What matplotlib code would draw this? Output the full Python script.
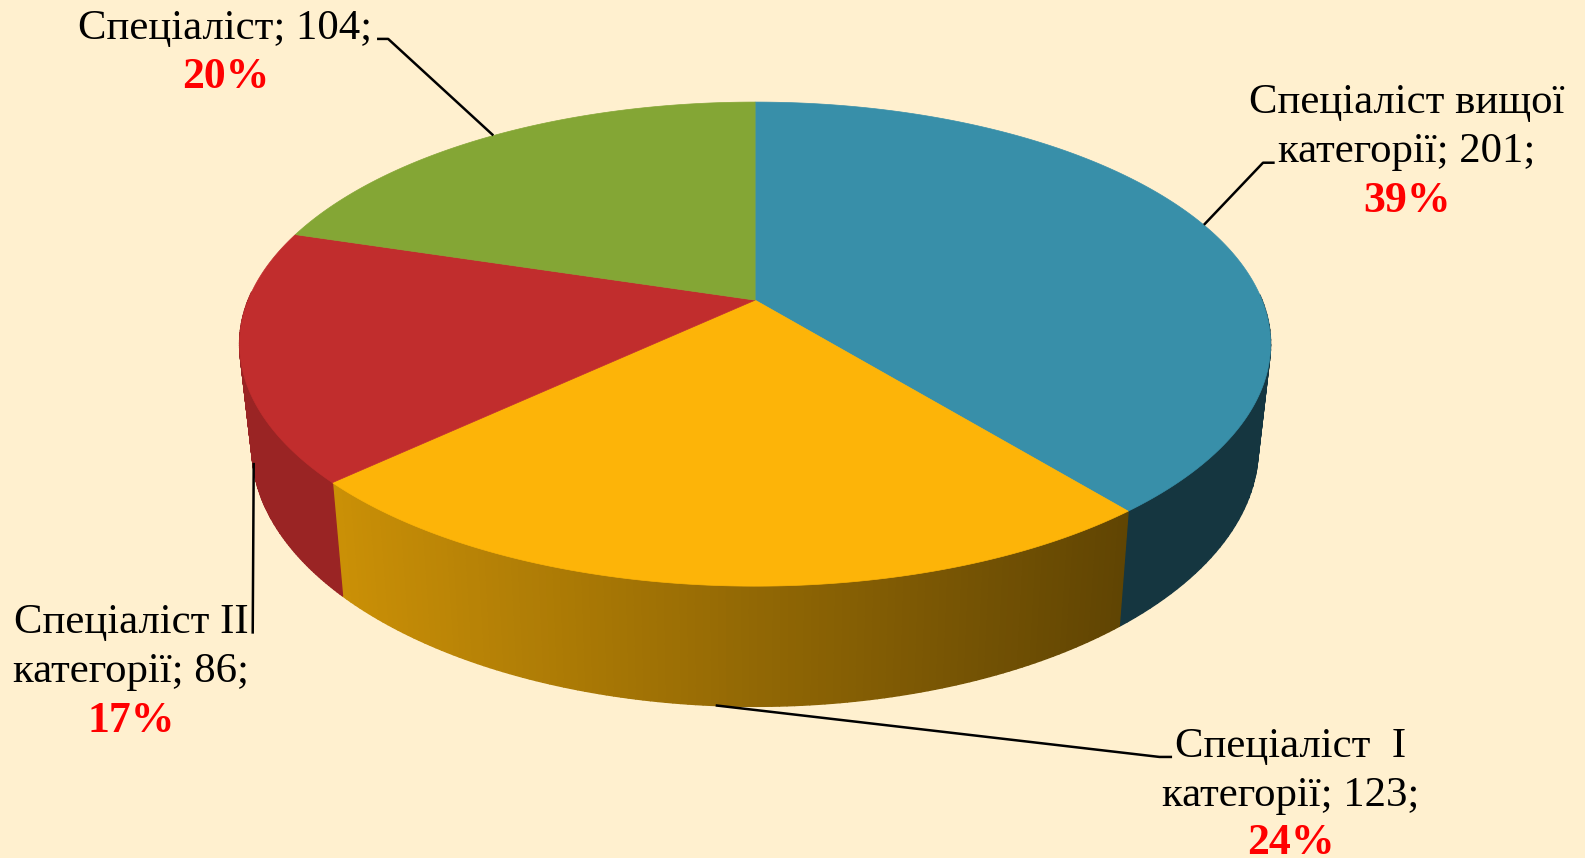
import matplotlib
matplotlib.use('Agg')
import matplotlib.pyplot as plt
from matplotlib.collections import PolyCollection
from matplotlib.patches import Polygon
import numpy as np

# значення секторів
categories = ['Спеціаліст вищої категорії', 'Спеціаліст  I категорії', 'Спеціаліст II категорії', 'Спеціаліст']
values = [201, 123, 86, 104]
percents = ['39%', '24%', '17%', '20%']
label_lines = [['Спеціаліст вищої', 'категорії; 201;'],
               ['Спеціаліст  I', 'категорії; 123;'],
               ['Спеціаліст II', 'категорії; 86;'],
               ['Спеціаліст; 104;']]
colors = ['#388fa9', '#fdb408', '#c12d2d', '#84a635']

# геометрія у пікселях картинки
W, H = 1568, 849
cx, cy = 747, 297
persp = 0.1816
ax_x, ax_y = 501.5, 231.6


def top_xy(t):
    # t - кут за годинниковою стрілкою від верху
    u, v = np.sin(t), np.cos(t)
    d = 1 + persp * v
    return cx + ax_x * u / d, cy - ax_y * v / d


def bottom_xy(t):
    x, y = top_xy(t)
    return cx + 0.976 * (x - cx), cy + 100 + 1.067 * (y - cy)


def wall_shade(x):
    return np.clip(0.8 - 0.42 * (x - 340) / 767, 0.38, 0.8)


fig = plt.figure(figsize=(15.85, 8.58), dpi=100, facecolor='#fff0cf')
ax = fig.add_axes([0, 0, 1, 1])
ax.set_xlim(0, W)
ax.set_ylim(H, 0)
ax.axis('off')

bounds = np.concatenate([[0], np.cumsum(values)]) / sum(values) * 2 * np.pi

# бокова стінка, смужками для градієнта (тільки передня частина)
for i in range(len(values)):
    ts = np.linspace(bounds[i], bounds[i + 1], 120)
    ts = ts[(ts > np.radians(88)) & (ts < np.radians(272))]
    if len(ts) < 2:
        continue
    x1, y1 = top_xy(ts)
    x2, y2 = bottom_xy(ts)
    quads = []
    cols = []
    base = np.array(matplotlib.colors.to_rgb(colors[i]))
    for j in range(len(ts) - 1):
        quads.append([(x1[j], y1[j]), (x1[j + 1], y1[j + 1]), (x2[j + 1], y2[j + 1]), (x2[j], y2[j])])
        cols.append(base * wall_shade((x2[j] + x2[j + 1]) / 2))
    ax.add_collection(PolyCollection(quads, facecolors=cols, edgecolors=cols, linewidths=1.0, zorder=2))

# верхня поверхня
for i in range(len(values)):
    ts = np.linspace(bounds[i], bounds[i + 1], 200)
    x, y = top_xy(ts)
    pts = np.column_stack([np.r_[cx, x], np.r_[cy, y]])
    ax.add_patch(Polygon(pts, closed=True, facecolor=colors[i], edgecolor=colors[i], lw=0.5, zorder=3))

# лінії виносок
leaders = [[(1191, 222.5), (1249.5, 161), (1261, 161)],
           [(708, 698), (1147, 749), (1159.5, 749)],
           [(251, 458), (250, 627)],
           [(488, 134), (384, 38.5), (373, 38.5)]]
for pts in leaders:
    xs, ys = zip(*pts)
    ax.plot(xs, ys, color='black', lw=1.8, zorder=4, solid_capstyle='butt')

# підписи
label_x = [1392, 1277, 130, 223]
baselines = [[112, 160, 209.5], [749, 798, 845], [626, 675, 724], [39, 87]]
for i in range(len(values)):
    for line, yb in zip(label_lines[i], baselines[i]):
        ax.text(label_x[i], yb, line, ha='center', va='baseline', fontsize=30.8,
                family='Liberation Serif', color='black', zorder=5)
    ax.text(label_x[i], baselines[i][-1], percents[i], ha='center', va='baseline', fontsize=31.5,
            family='Liberation Serif', weight='bold', color='#ff0000', zorder=5)

fig.savefig('out.png', dpi=100, facecolor=fig.get_facecolor())
